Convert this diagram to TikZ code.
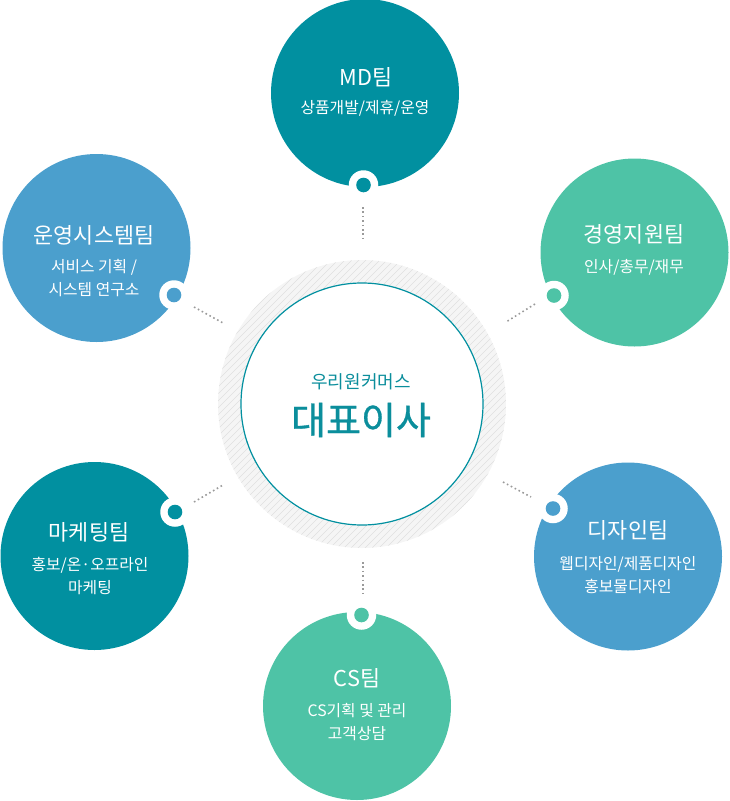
\documentclass[tikz,border=0pt]{standalone}
\usepackage{fontspec}
\usetikzlibrary{calc}
\setmainfont{Noto Sans CJK KR}
\newfontfamily\ceofont[FakeBold=0.8]{Noto Sans CJK KR}
\definecolor{cteal}{HTML}{0190A0}
\definecolor{cblue}{HTML}{4B9FCD}
\definecolor{cgreen}{HTML}{4EC3A6}
\definecolor{ceotxt}{HTML}{0B8E9C}
\definecolor{hatchbg}{HTML}{F5F5F5}
\definecolor{hatchln}{HTML}{E0E0E0}
\definecolor{dotgray}{HTML}{9A9A9A}
\tikzset{
  team/.style={circle, minimum size=188pt, inner sep=0pt, draw=none},
  ring/.style={circle, fill=white, minimum size=29.5pt, inner sep=0pt},
  knob/.style={circle, minimum size=14.6pt, inner sep=0pt},
  ttl/.style={text=white, font=\fontsize{21.8}{26}\selectfont, inner sep=0pt},
  sub/.style={text=white, font=\fontsize{15.8}{23}\selectfont, inner sep=0pt, align=center},
  dotline/.style={draw=dotgray, line width=1.6pt, dash pattern=on 1.6pt off 2.8pt},
}
\begin{document}
\begin{tikzpicture}[x=1pt,y=-1pt]
\useasboundingbox (0,0) rectangle (729,801);
% center
\coordinate (c) at (362,404);
\fill[hatchbg] (c) circle (144);
\begin{scope}
  \clip (c) circle (144);
  \foreach \i in {-483,-476,...,483}
    \draw[hatchln, line width=0.55pt] ($(c)+(\i-300,300)$) -- ++(600,-600);
\end{scope}
\node[circle, minimum size=242pt, inner sep=0pt, fill=white, draw=cteal, line width=1.2pt] (ceo) at (c) {};
\node[text=ceotxt, font=\fontsize{18}{22}\selectfont, inner sep=0pt] (ceosub) at (361,382) {우리원커머스};
\node[text=ceotxt, font=\ceofont\fontsize{38}{44}\selectfont, inner sep=0pt] (ceottl) at (361,420) {대표이사};

% team circles
\node[team, fill=cteal]  (md)  at (365,93)  {};
\node[team, fill=cblue]  (ops) at (96.5,248) {};
\node[team, fill=cgreen] (mgt) at (634.5,252.5) {};
\node[team, fill=cteal]  (mkt) at (94.5,556) {};
\node[team, fill=cblue]  (dsn) at (628,556.5) {};
\node[team, fill=cgreen] (cs)  at (357,706) {};

% knobs
\node[ring] (mdr)  at (363.5,185) {};  \node[knob, fill=cteal]  (mdk)  at (mdr) {};
\node[ring] (opsr) at (174,295) {};    \node[knob, fill=cblue]  (opsk) at (opsr) {};
\node[ring] (mgtr) at (554,295.5) {};  \node[knob, fill=cgreen] (mgtk) at (mgtr) {};
\node[ring] (mktr) at (175,512) {};    \node[knob, fill=cteal]  (mktk) at (mktr) {};
\node[ring] (dsnr) at (553,508.5) {};  \node[knob, fill=cblue]  (dsnk) at (dsnr) {};
\node[ring] (csr)  at (361.5,615) {};  \node[knob, fill=cgreen] (csk)  at (csr) {};

% dotted connectors
\coordinate (mdA) at (363,207);  \coordinate (mdB) at (363,239);
\coordinate (opsA) at (194,307); \coordinate (opsB) at (223,323);
\coordinate (mgtA) at (535,304); \coordinate (mgtB) at (506,322);
\coordinate (mktA) at (194,502); \coordinate (mktB) at (223,485);
\coordinate (dsnA) at (503,482); \coordinate (dsnB) at (531,497);
\coordinate (csA) at (363,562);  \coordinate (csB) at (363,594);
\draw[dotline] (mdA) -- (mdB);
\draw[dotline] (opsA) -- (opsB);
\draw[dotline] (mgtA) -- (mgtB);
\draw[dotline] (mktA) -- (mktB);
\draw[dotline] (dsnA) -- (dsnB);
\draw[dotline] (csA) -- (csB);

% texts
\node[ttl] (mdt) at (366,77) {MD팀};
\node[sub] (mds) at (365,108) {상품개발/제휴/운영};

\node[ttl] (opst) at (94,235) {운영시스템팀};
\node[sub] (opss) at (94,278.5) {서비스 기획 /\\시스템 연구소};

\node[ttl] (mgtt) at (634,234) {경영지원팀};
\node[sub] (mgts) at (634,267) {인사/총무/재무};

\node[ttl] (mktt) at (89,532) {마케팅팀};
\node[sub] (mkts) at (90,575.5) {홍보/온·오프라인\\마케팅};

\node[ttl] (dsnt) at (628,530) {디자인팀};
\node[sub] (dsns) at (628,575) {웹디자인/제품디자인\\홍보물디자인};

\node[ttl] (cst) at (357,678) {CS팀};
\node[sub] (css) at (357,722.5) {CS기획 및 관리\\고객상담};
\end{tikzpicture}
\end{document}
